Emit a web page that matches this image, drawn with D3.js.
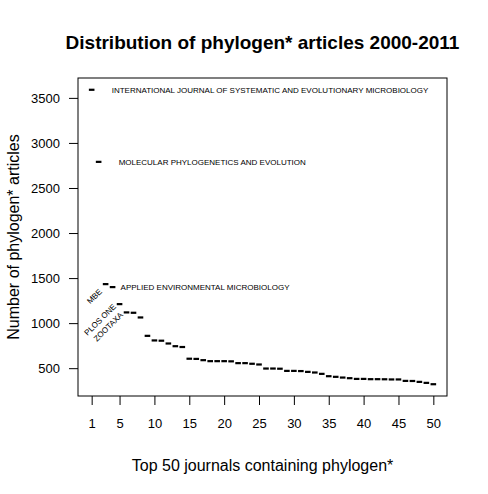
<!DOCTYPE html>
<html>
<head>
<meta charset="utf-8">
<script src="https://cdn.jsdelivr.net/npm/d3@7"></script>
<style>
  body { margin: 0; background: #fff; }
  text { font-family: "Liberation Sans", Arial, sans-serif; }
</style>
</head>
<body>
<svg id="chart" width="488" height="494"></svg>
<script>
// article counts for the top 50 journals (rank 1..50)
const ranks = d3.range(1, 51);
const counts = [
  3590, 2790, 1433, 1400, 1211, 1119, 1115, 1063, 859, 808,
  805, 774, 744, 735, 605, 603, 589, 578, 578, 578,
  576, 556, 556, 549, 541, 496, 496, 494, 470, 470,
  468, 459, 452, 437, 411, 404, 396, 389, 381, 381,
  378, 378, 377, 375, 375, 359, 358, 348, 337, 322
];
const xTicks = [1, 5, 10, 15, 20, 25, 30, 35, 40, 45, 50];
const yTicks = [500, 1000, 1500, 2000, 2500, 3000, 3500];

// journal names written beside some points
const names = [
  { rank: 1, text: "INTERNATIONAL JOURNAL OF SYSTEMATIC AND EVOLUTIONARY MICROBIOLOGY" },
  { rank: 2, text: "MOLECULAR PHYLOGENETICS AND EVOLUTION" },
  { rank: 4, text: "APPLIED ENVIRONMENTAL MICROBIOLOGY" }
];
const shortNames = [
  { rank: 3, text: "MBE" },
  { rank: 5, text: "PLOS ONE" },
  { rank: 6, text: "ZOOTAXA" }
];

const data = ranks.map((r, i) => ({ rank: r, count: counts[i] }));

const svg = d3.select("#chart");
const box = { left: 78, right: 447, top: 78, bottom: 396 };

// R style axes: data range padded by 4% each side
const pad = (ext) => {
  const d = (ext[1] - ext[0]) * 0.04;
  return [ext[0] - d, ext[1] + d];
};
const x = d3.scaleLinear()
  .domain(pad(d3.extent(ranks)))
  .range([box.left, box.right]);
const y = d3.scaleLinear()
  .domain(pad(d3.extent(counts)))
  .range([box.bottom, box.top]);

svg.append("rect")
  .attr("x", box.left)
  .attr("y", box.top)
  .attr("width", box.right - box.left)
  .attr("height", box.bottom - box.top)
  .attr("fill", "none")
  .attr("stroke", "#000")
  .attr("stroke-width", 1);

const xAxis = d3.axisBottom(x).tickValues(xTicks).tickSize(9).tickPadding(14);
svg.append("g")
  .attr("transform", "translate(0," + box.bottom + ")")
  .call(xAxis)
  .call((g) => g.select(".domain").remove())
  .selectAll("text")
  .attr("font-size", 13)
  .attr("font-family", "Liberation Sans, Arial, sans-serif");

const yAxis = d3.axisLeft(y)
  .tickValues(yTicks)
  .tickFormat(d3.format("d"))
  .tickSize(9)
  .tickPadding(9);
svg.append("g")
  .attr("transform", "translate(" + box.left + ",0)")
  .call(yAxis)
  .call((g) => g.select(".domain").remove())
  .selectAll("text")
  .attr("font-size", 13)
  .attr("font-family", "Liberation Sans, Arial, sans-serif");

// points drawn as short dashes (pch = "-")
svg.append("g")
  .selectAll("rect")
  .data(data)
  .join("rect")
  .attr("x", (d) => x(d.rank) - 2.8)
  .attr("y", (d) => y(d.count) - 1.1)
  .attr("width", 5.6)
  .attr("height", 2.2)
  .attr("fill", "#000");

const byRank = (r) => data.find((d) => d.rank === r);

svg.append("g")
  .selectAll("text")
  .data(names)
  .join("text")
  .attr("x", (d) => x(d.rank) + (d.rank === 4 ? 8 : 20))
  .attr("y", (d) => y(byRank(d.rank).count) + 3)
  .attr("font-size", 8)
  .text((d) => d.text);

svg.append("g")
  .selectAll("text")
  .data(shortNames)
  .join("text")
  .attr("transform", (d) => {
    const px = x(d.rank) - 5;
    const py = y(byRank(d.rank).count) + (d.rank === 3 ? 6 : 1);
    return "translate(" + px + "," + py + ") rotate(-45)";
  })
  .attr("text-anchor", "end")
  .attr("dy", "0.35em")
  .attr("font-size", 8)
  .text((d) => d.text);

svg.append("text")
  .attr("x", (box.left + box.right) / 2)
  .attr("y", 49)
  .attr("text-anchor", "middle")
  .attr("font-size", 19)
  .attr("font-weight", "bold")
  .text("Distribution of phylogen* articles 2000-2011");

svg.append("text")
  .attr("x", (box.left + box.right) / 2)
  .attr("y", 471)
  .attr("text-anchor", "middle")
  .attr("font-size", 16)
  .text("Top 50 journals containing phylogen*");

svg.append("text")
  .attr("transform", "translate(19," + (box.top + box.bottom) / 2 + ") rotate(-90)")
  .attr("text-anchor", "middle")
  .attr("font-size", 16)
  .text("Number of phylogen* articles");
</script>
</body>
</html>
